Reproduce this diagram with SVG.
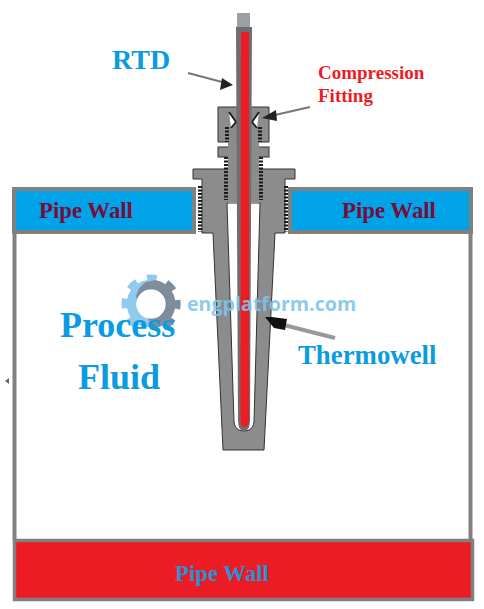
<svg xmlns="http://www.w3.org/2000/svg" width="484" height="609" viewBox="0 0 484 609">
<style>
text{font-family:"Liberation Serif",serif;font-weight:bold}
.wall{stroke:#808080;stroke-width:4}
.metal{fill:#8c8c8c;stroke:#333;stroke-width:1}
.thr{fill:none;stroke:#1a1a1a;stroke-width:4;stroke-dasharray:2 1.500}
.blue{fill:#0b9be0}
.arr{stroke:#777;fill:none}
</style>
<defs>
<clipPath id="gearcut"><rect x="110" y="265" width="80" height="62"/></clipPath>
<clipPath id="greyside"><path d="M136 296Q139 286 146 282L168 278H195V335H150V322L137 300Z"/></clipPath>
<g id="gear">
<circle cx="151" cy="304" r="19.500" fill="none" stroke-width="9.500"/>
<circle cx="151" cy="304" r="26.500" fill="none" stroke-width="6" stroke-dasharray="10 10.810" stroke-dashoffset="5"/>
</g>
</defs>
<rect width="484" height="609" fill="#fff"/>
<g id="process-vessel">
<path d="M14.500 233V540M470.500 233V540" class="wall" fill="none"/>
<path d="M5 381L9 378V384Z" fill="#666"/>
</g>
<g id="pipe-wall-left">
<rect x="14" y="189" width="180" height="43" fill="#00a2e8" class="wall"/>
<text x="39" y="218" font-size="22.800" fill="#7a0c3a">Pipe Wall</text>
</g>
<g id="pipe-wall-right">
<rect x="290" y="189" width="181" height="43" fill="#00a2e8" class="wall"/>
<text x="342" y="218" font-size="22.800" fill="#7a0c3a">Pipe Wall</text>
</g>
<g id="pipe-wall-bottom">
<rect x="14.500" y="540.500" width="458" height="59" fill="#ed1c24" stroke="#808080" stroke-width="3.500"/>
<text x="175" y="581" font-size="22.800" fill="#2a90d0">Pipe Wall</text>
</g>
<g id="thermowell">
<path class="metal" d="M193 169H295V179H285V233H275L264 450H223L213 233H202V179H193Z"/>
<path d="M227 203H260L254 422Q253 431 244 431Q235 431 234 422Z" fill="#fff" stroke="#333" stroke-width="1"/>
<path class="thr" d="M200 186V232M286 186V232"/>
<path class="thr" d="M226 157V200M261 157V200"/>
<rect x="228" y="157" width="31" height="46" fill="#8c8c8c"/>
</g>
<g id="fitting">
<path class="metal" d="M218 107H238V130L230 142H218Z"/>
<path class="metal" d="M269 107H250V130L258 142H269Z"/>
<rect class="metal" x="218" y="147" width="51" height="10"/>
<rect x="228" y="125" width="31" height="40" fill="#8c8c8c"/>
<path class="thr" d="M227 127V142M260 127V142"/>
<path d="M229 112L236 122L231 128M259 112L252 122L257 128" fill="#fff" stroke="#1a1a1a" stroke-width="1.800"/>
</g>
<g id="rtd">
<rect x="237" y="13" width="13" height="14" fill="#9aa0a4"/>
<path d="M236 27H252L250 420Q250 431 244 431Q238 431 238 420Z" fill="#6e6e6e"/>
<path d="M241 32H249V420Q249 427 244.500 427Q240.500 427 240.500 420Z" fill="#ed1c24"/>
</g>
<g id="connectors">
<path class="arr" stroke-width="2" d="M188 73L222 82"/>
<path d="M233 85L220 90L222 78Z" fill="#222"/>
<path class="arr" stroke-width="2" d="M310 107L275 115"/>
<path d="M262 118L276 110L277 121Z" fill="#222"/>
<path stroke="#999" fill="none" stroke-width="4" d="M335 338L284 325"/>
<path d="M265 317L272 317L287 319L285 330L274 328Z" fill="#111"/>
</g>
<g id="logo">
<g clip-path="url(#gearcut)">
<use href="#gear" stroke="#8ecbee"/>
<g clip-path="url(#greyside)"><use href="#gear" stroke="#7f8c99"/></g>
</g>
<text x="187" y="311" font-size="19.600" fill="#7cc4ec" fill-opacity=".9" style="font-family:'Open Sans',sans-serif">engplatform.com</text>
</g>
<g id="labels">
<text x="112" y="69" font-size="28" class="blue">RTD</text>
<text x="318" y="79" font-size="19" fill="#ed1c24">Compression</text>
<text x="318" y="102" font-size="19" fill="#ed1c24">Fitting</text>
<text x="60" y="337" font-size="36" class="blue">Process</text>
<text x="78" y="389" font-size="36" class="blue">Fluid</text>
<text x="298" y="364" font-size="26.800" class="blue">Thermowell</text>
</g>
</svg>
